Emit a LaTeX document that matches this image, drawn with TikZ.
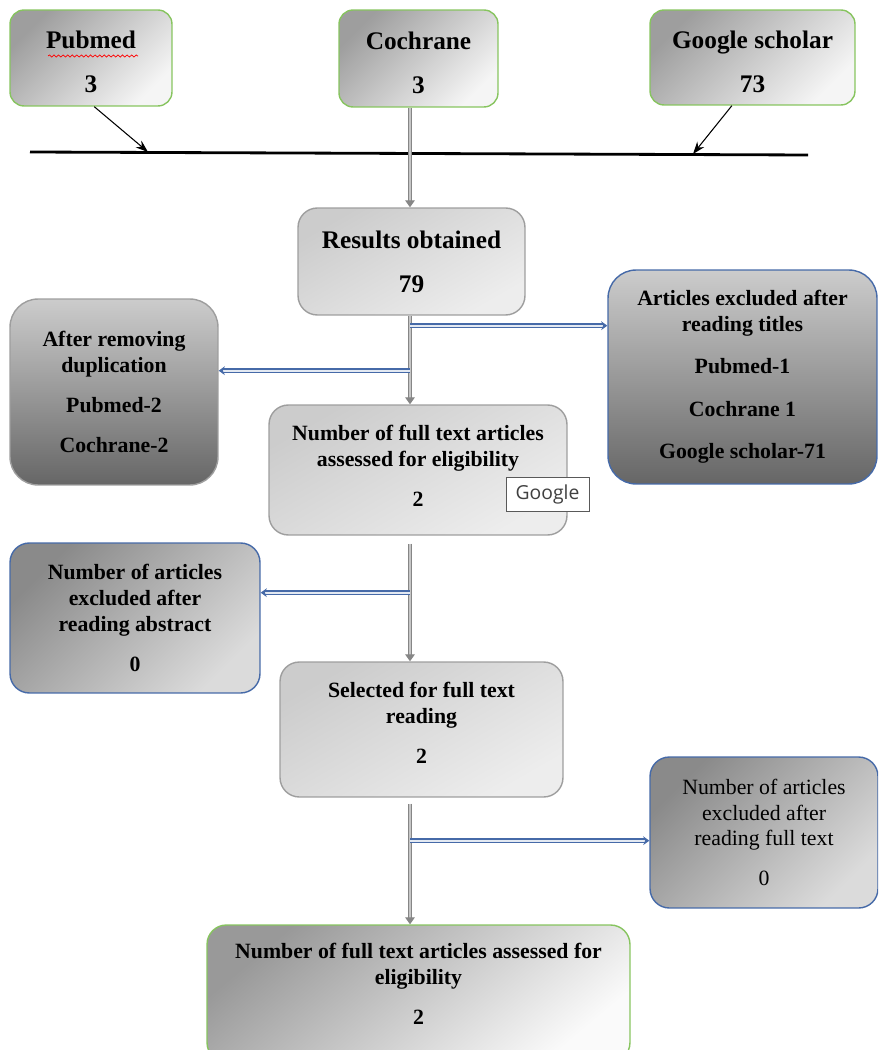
\documentclass[tikz,border=0pt]{standalone}
\usepackage{fontspec}
\setmainfont{Liberation Serif}
\setsansfont{Open Sans}
\usetikzlibrary{arrows.meta,calc,decorations.pathmorphing}

\definecolor{greenedge}{RGB}{135,196,95}
\definecolor{blueedge}{RGB}{70,106,168}
\definecolor{grayedge}{gray}{0.62}
\definecolor{srcDark}{gray}{0.62}
\definecolor{srcLight}{gray}{0.96}
\definecolor{midDark}{gray}{0.80}
\definecolor{midLight}{gray}{0.93}
\definecolor{dupTop}{gray}{0.80}
\definecolor{dupBot}{gray}{0.40}
\definecolor{excDark}{gray}{0.54}
\definecolor{excLight}{gray}{0.86}
\definecolor{incDark}{gray}{0.60}
\definecolor{incLight}{gray}{0.98}

% struts that move a node's text down (top) or up (bot)
\newcommand{\toppad}[1]{\rule{0pt}{#1}}
\newcommand{\botpad}[1]{\rule[-#1]{0pt}{0pt}}

\begin{document}
\begin{tikzpicture}[
    x=0.02cm, y=-0.02cm,
    every node/.style={
        align=center,
        font=\bfseries\fontsize{12.4}{14.7}\selectfont},
    box/.style={draw, rounded corners=11pt, line width=0.8pt, inner sep=2pt},
    big/.style={font=\bfseries\fontsize{14.4}{17}\selectfont},
    source/.style={box, big, rounded corners=8pt, draw=greenedge, top color=srcDark, bottom color=srcLight, shading angle=45},
    stage/.style={box, draw=grayedge, top color=midDark, bottom color=midLight, shading angle=30},
    dropped/.style={box, rounded corners=16pt, top color=dupTop, bottom color=dupBot},
    excluded/.style={box, draw=blueedge, top color=excDark, bottom color=excLight, shading angle=45},
    final/.style={box, draw=greenedge, top color=incDark, bottom color=incLight, shading angle=40},
    feed/.style={line width=0.6pt, -{Stealth[length=7pt,width=5pt]}},
    flow/.style={draw=gray!95, double=gray!45, double distance=0.7pt, line width=0.7pt,
        -{Triangle[length=4pt,width=5.5pt]}},
    side/.style={draw=blueedge, double=white!85!blueedge, double distance=1.3pt,
        line width=0.75pt, -{Stealth[length=3.5pt,width=5pt]}}]
    \clip (0,0) rectangle (878,1050);

    \node[source, minimum width=3.24cm, minimum height=1.92cm] (pubmed) at (91,58) {\toppad{14.5pt}Pubmed\\[8pt]3};
    \node[source, minimum width=3.18cm, minimum height=1.94cm] (cochrane) at (418.5,58.5) {\toppad{14.5pt}Cochrane\\[8pt]3};
    \node[source, minimum width=4.10cm, minimum height=1.90cm] (scholar) at (752.5,57.5) {\toppad{14.5pt}Google scholar\\[8pt]73};
    \draw[red, line width=0.4pt, decorate, decoration={snake, amplitude=0.6pt, segment length=2.6pt}]
        (48,56) -- (138,56);

    \coordinate (barL) at (30,152);
    \coordinate (barR) at (808,155);
    \coordinate (hitL) at (148,152);
    \coordinate (hitR) at (693,154);
    \coordinate (spine) at (410,0);

    \node[stage, big, minimum width=4.54cm, minimum height=2.14cm] (results) at (411.5,261.5) {Results obtained\\[8pt]79};
    \node[dropped, draw=grayedge, minimum width=4.16cm, minimum height=3.72cm] (dedup) at (114,392)
        {After removing\\duplication\\[8pt]Pubmed-2\\[8pt]Cochrane-2};
    \node[dropped, draw=blueedge, minimum width=5.38cm, minimum height=4.28cm] (titles) at (742.5,377)
        {Articles excluded after\\reading titles\\[9.5pt]Pubmed-1\\[9.5pt]Cochrane 1\\[9.5pt]Google scholar-71};
    \node[stage, minimum width=5.96cm, minimum height=2.60cm] (assessed) at (418,470)
        {Number of full text articles\\assessed for eligibility\\[8pt]2\botpad{4.6pt}};
    \node[draw=gray!70!black, fill=white, line width=0.5pt, minimum width=1.66cm, minimum height=0.68cm,
        font=\sffamily\fontsize{11}{13}\selectfont, text=black!75] (popup) at (547.5,494) {Google};
    \node[excluded, minimum width=5.00cm, minimum height=3.00cm] (abstract) at (135,618)
        {Number of articles\\excluded after\\reading abstract\\[8pt]0};
    \node[stage, minimum width=5.66cm, minimum height=2.70cm] (selected) at (421.5,729.5)
        {Selected for full text\\reading\\[8pt]2\botpad{8pt}};
    \node[excluded, font=\mdseries\fontsize{12.4}{14.7}\selectfont, minimum width=4.56cm, minimum height=3.02cm] (fulltext) at (764,832.5)
        {Number of articles\\excluded after\\reading full text\\[8pt]0};
    \node[final, minimum width=8.46cm, minimum height=2.74cm] (included) at (418.5,993.5)
        {Number of full text articles assessed for\\eligibility\\[8pt]2\botpad{10.8pt}};

    \draw[line width=1.6pt] (barL) -- (barR);
    \draw[feed] ($(pubmed.south west)!0.52!(pubmed.south east)$) -- (hitL);
    \draw[feed] ($(scholar.south west)!0.4!(scholar.south east)$) -- (hitR);

    \draw[flow] (spine |- cochrane.south) -- (spine |- results.north);
    \draw[flow] (spine |- results.south) -- (spine |- assessed.north);
    \draw[side] ($(spine |- results.south)+(0,10)$) -- ($(titles.west |- results.south)+(0,10)$);
    \draw[side] ($(spine |- results.south)+(0,55)$) -- ($(dedup.east |- results.south)+(0,55)$);

    \draw[flow] ($(spine |- assessed.south)+(0,8)$) -- (spine |- selected.north);
    \draw[side] ($(spine |- assessed.south)+(0,57)$) -- ($(abstract.east |- assessed.south)+(0,57)$);

    \draw[flow] ($(spine |- selected.south)+(0,6)$) -- (spine |- included.north);
    \draw[side] ($(spine |- selected.south)+(0,43)$) -- ($(fulltext.west |- selected.south)+(0,43)$);
\end{tikzpicture}
\end{document}
